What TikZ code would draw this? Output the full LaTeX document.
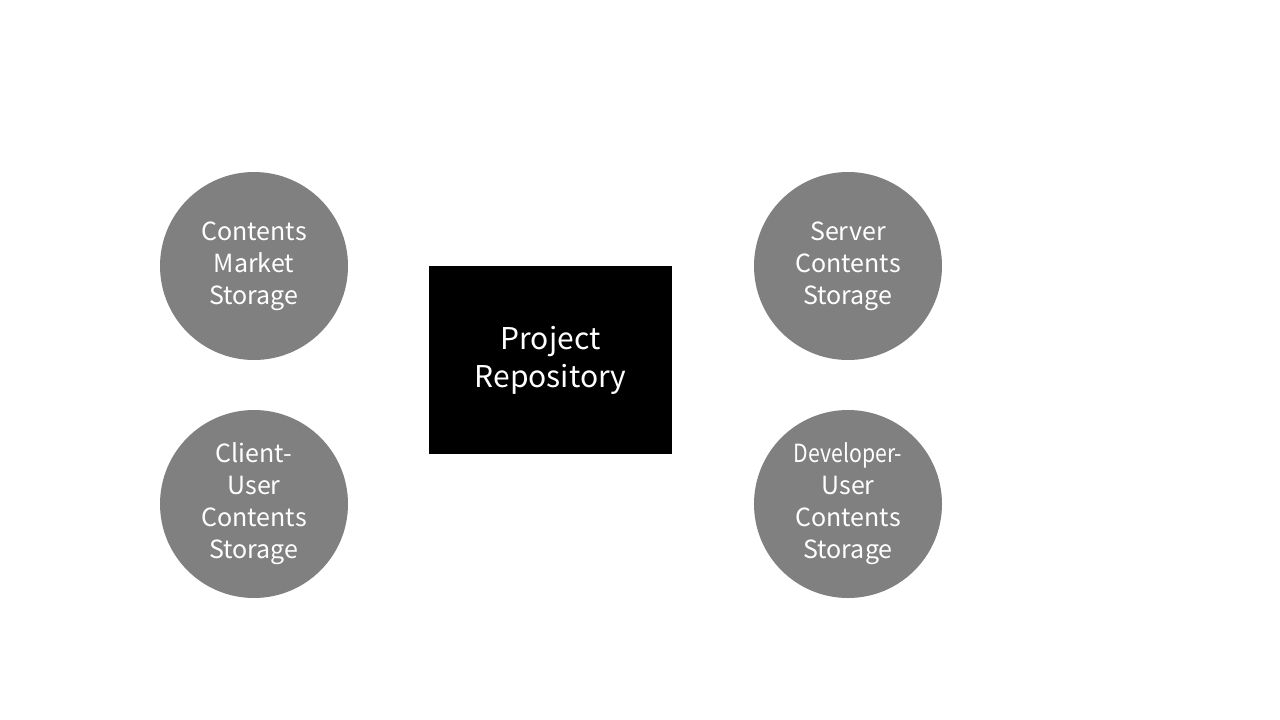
\documentclass[tikz,border=0pt]{standalone}
\usepackage{fontspec}
\setmainfont{Noto Sans CJK KR}
\begin{document}
\begin{tikzpicture}[x=1pt,y=-1pt,
  store/.style={circle, fill=black!50, minimum size=188pt, inner sep=0pt,
    text=white, align=center, font=\fontsize{25}{32}\selectfont},
  repo/.style={rectangle, fill=black, minimum width=243pt, minimum height=188pt,
    inner sep=0pt, text=white, align=center, font=\fontsize{30}{38}\selectfont}]
\useasboundingbox (0,0) rectangle (1280,720);
\node[store] (cms) at (254,266) {Contents\\Market\\Storage};
\node[store] (cucs) at (254,504) {Client-\\User\\Contents\\Storage};
\node[store] (scs) at (848,266) {Server\\Contents\\Storage};
\node[store] (ducs) at (848,504) {\scalebox{0.85}[1]{Developer-}\\User\\Contents\\Storage};
\node[repo] (repo) at (550.5,360) {Project\\Repository};
\end{tikzpicture}
\end{document}
